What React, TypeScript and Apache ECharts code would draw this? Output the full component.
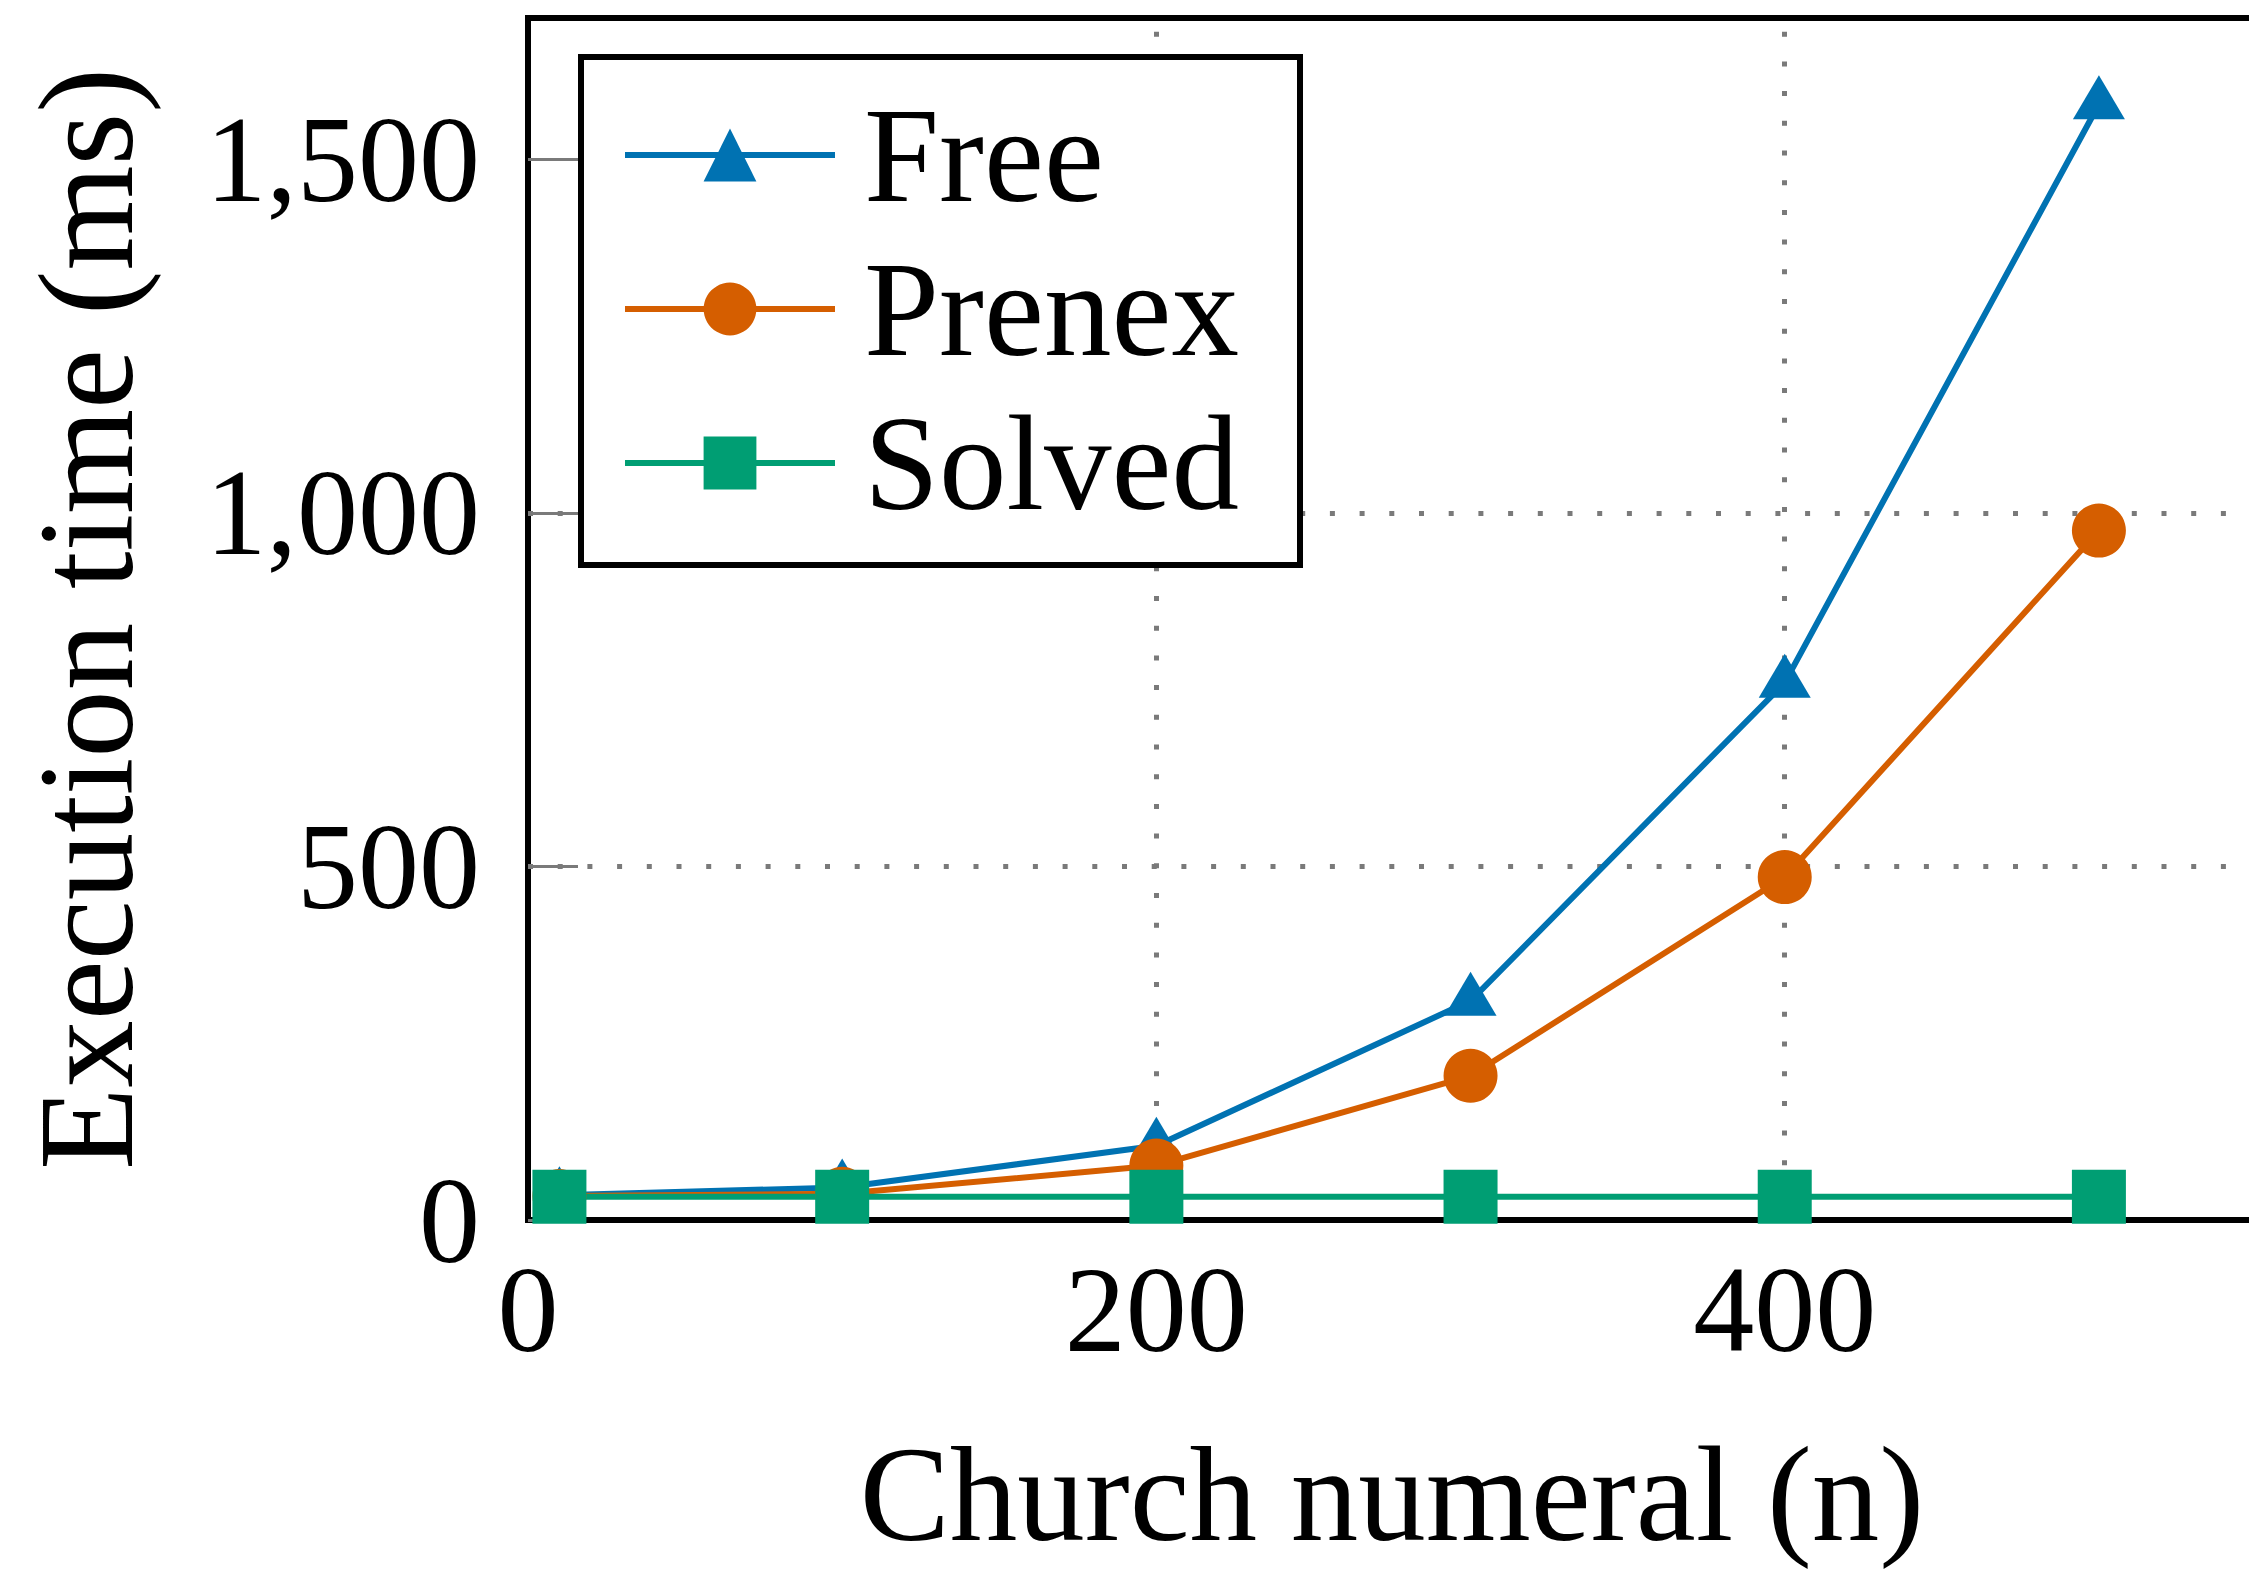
import React, { useEffect, useRef } from 'react';
import * as echarts from 'echarts';

// ---- data ----
const xValues = [10, 100, 200, 300, 400, 500];
const freeTimes = [35, 46, 105, 310, 760, 1578];
const prenexTimes = [34, 37, 77, 204, 485, 975];
const solvedTimes = [33, 33, 33, 33, 33, 33];
const seriesNames = ['Free', 'Prenex', 'Solved'];
const yTickValues = [0, 500, 1000, 1500];
const xTickValues = [0, 200, 400];

const FONT = "'Liberation Serif', 'Times New Roman', serif";
const GRID_COLOR = '#7a7a7a';

function pairs(xs: number[], ys: number[]) {
  return xs.map((x, i) => [x, ys[i]]);
}

export default function App() {
  const ref = useRef<HTMLDivElement>(null);

  useEffect(() => {
    if (!ref.current) return;
    const chart = echarts.init(ref.current, undefined, { renderer: 'svg' });
    const lineSeries = (name: string, data: number[], color: string, symbol: string, size: any, offset: number[]) => ({
      name,
      type: 'line',
      data: pairs(xValues, data),
      symbol,
      symbolSize: size,
      symbolOffset: offset,
      showSymbol: true,
      clip: false,
      lineStyle: { color, width: 6 },
      itemStyle: { color },
      emphasis: { disabled: true },
    });

    chart.setOption({
      animation: false,
      backgroundColor: '#fff',
      grid: {
        left: 528,
        top: 18,
        width: 1728,
        height: 1202,
        show: true,
        borderColor: '#000',
        borderWidth: 6,
        backgroundColor: 'transparent',
        containLabel: false,
      },
      legend: {
        data: seriesNames,
        orient: 'vertical',
        left: 581,
        top: 57,
        itemWidth: 210,
        itemHeight: 66,
        itemGap: 14,
        padding: [28, 61, 32, 41],
        borderColor: '#000',
        borderWidth: 6,
        backgroundColor: '#fff',
        selectedMode: false,
        lineStyle: { width: 6 },
        textStyle: {
          fontFamily: FONT,
          fontSize: 135,
          lineHeight: 140,
          color: '#000',
          padding: [0, 0, 0, 24],
        },
      },
      xAxis: {
        type: 'value',
        min: 0,
        max: 550,
        interval: 200,
        name: 'Church numeral (n)',
        nameLocation: 'middle',
        nameGap: 207,
        nameTextStyle: { fontFamily: FONT, fontSize: 135, lineHeight: 135, color: '#000' },
        axisLine: { show: false },
        axisTick: { show: false },
        axisLabel: {
          customValues: xTickValues,
          margin: 28,
          fontFamily: FONT,
          fontSize: 122,
          lineHeight: 122,
          color: '#000',
        },
        splitLine: {
          show: true,
          showMinLine: false,
          showMaxLine: false,
          lineStyle: { color: GRID_COLOR, width: 5, type: [5, 24.7], dashOffset: 15.7, cap: 'butt' },
        },
      },
      yAxis: {
        type: 'value',
        min: 0,
        max: 1700,
        interval: 500,
        name: 'Execution time (ms)',
        nameLocation: 'middle',
        nameGap: 374,
        nameTextStyle: { fontFamily: FONT, fontSize: 135, lineHeight: 135, color: '#000' },
        axisLine: { show: false },
        axisTick: {
          show: true,
          inside: true,
          length: 50,
          customValues: yTickValues,
          lineStyle: { color: GRID_COLOR, width: 3 },
        },
        axisLabel: {
          customValues: yTickValues,
          margin: 48,
          fontFamily: FONT,
          fontSize: 122,
          lineHeight: 122,
          color: '#000',
          formatter: (v: number) => v.toLocaleString('en-US'),
        },
        splitLine: {
          show: true,
          showMinLine: false,
          showMaxLine: false,
          lineStyle: { color: GRID_COLOR, width: 5, type: [5, 24.7], cap: 'butt' },
        },
      },
      series: [
        lineSeries(seriesNames[0], freeTimes, '#0072B2', 'triangle', [52, 44], [0, -7]),
        lineSeries(seriesNames[1], prenexTimes, '#D55E00', 'circle', 54, [0, 0]),
        lineSeries(seriesNames[2], solvedTimes, '#009E73', 'rect', 54, [0, 0]),
      ],
    });

    return () => {
      chart.dispose();
    };
  }, []);

  return (
    <div
      style={{
        position: 'fixed',
        left: 0,
        top: 0,
        width: 2249,
        height: 1569,
        overflow: 'hidden',
        background: '#fff',
      }}
    >
      <div ref={ref} style={{ width: 2400, height: 1569 }} />
    </div>
  );
}
